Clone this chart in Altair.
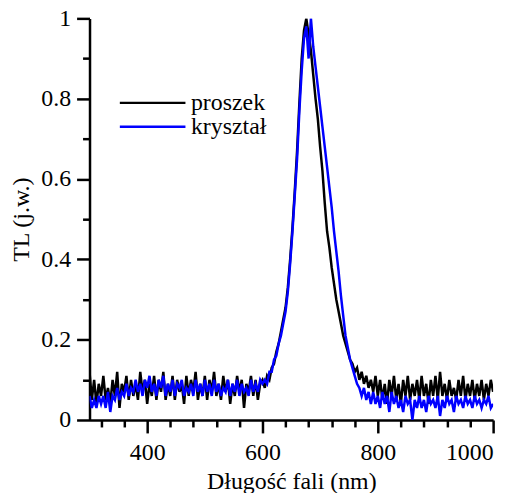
import altair as alt
import pandas as pd

# wavelength grid (nm)
wavelength = list(range(300, 1001, 4))

# proszek (black)
proszek = [
    0.12, 0.05, 0.10, 0.04, 0.09, 0.06, 0.11, 0.05, 0.08, 0.04,
    0.10, 0.06, 0.12, 0.03, 0.09, 0.07, 0.11, 0.05, 0.10, 0.06,
    0.09, 0.05, 0.12, 0.07, 0.10, 0.04, 0.09, 0.06, 0.11, 0.05,
    0.10, 0.07, 0.12, 0.05, 0.09, 0.06, 0.11, 0.05, 0.10, 0.07,
    0.09, 0.04, 0.11, 0.06, 0.10, 0.07, 0.12, 0.05, 0.09, 0.06,
    0.11, 0.05, 0.10, 0.07, 0.12, 0.06, 0.09, 0.05, 0.11, 0.07,
    0.10, 0.04, 0.09, 0.06, 0.11, 0.07, 0.10, 0.03, 0.09, 0.07,
    0.11, 0.06, 0.10, 0.05, 0.09, 0.10, 0.08, 0.11, 0.10, 0.13,
    0.14, 0.17, 0.19, 0.22, 0.25, 0.28, 0.33, 0.40, 0.48, 0.57,
    0.67, 0.79, 0.90, 0.97, 1.00, 0.96, 0.92, 0.86, 0.80, 0.75,
    0.68, 0.62, 0.54, 0.47, 0.43, 0.38, 0.34, 0.30, 0.27, 0.24,
    0.21, 0.19, 0.17, 0.15, 0.14, 0.12, 0.13, 0.10, 0.12, 0.09,
    0.11, 0.08, 0.10, 0.07, 0.11, 0.06, 0.10, 0.05, 0.09, 0.04,
    0.10, 0.06, 0.11, 0.05, 0.09, 0.04, 0.10, 0.06, 0.11, 0.05,
    0.09, 0.06, 0.10, 0.05, 0.11, 0.06, 0.09, 0.04, 0.10, 0.06,
    0.11, 0.05, 0.12, 0.06, 0.09, 0.05, 0.10, 0.06, 0.08, 0.05,
    0.10, 0.06, 0.11, 0.05, 0.09, 0.06, 0.10, 0.05, 0.09, 0.06,
    0.10, 0.05, 0.09, 0.06, 0.10, 0.07,
]

# kryształ (blue)
krysztal = [
    0.06, 0.03, 0.05, 0.03, 0.06, 0.04, 0.06, 0.03, 0.07, 0.02,
    0.06, 0.05, 0.08, 0.05, 0.07, 0.06, 0.09, 0.06, 0.08, 0.07,
    0.10, 0.07, 0.09, 0.06, 0.10, 0.08, 0.11, 0.07, 0.09, 0.06,
    0.10, 0.08, 0.11, 0.06, 0.09, 0.07, 0.10, 0.06, 0.09, 0.08,
    0.10, 0.06, 0.08, 0.07, 0.09, 0.06, 0.10, 0.07, 0.09, 0.06,
    0.10, 0.07, 0.09, 0.06, 0.10, 0.07, 0.09, 0.06, 0.08, 0.07,
    0.10, 0.06, 0.09, 0.07, 0.10, 0.06, 0.09, 0.07, 0.08, 0.06,
    0.10, 0.07, 0.09, 0.07, 0.10, 0.09, 0.10, 0.09, 0.12, 0.12,
    0.15, 0.16, 0.19, 0.21, 0.24, 0.27, 0.32, 0.39, 0.47, 0.56,
    0.65, 0.77, 0.87, 0.95, 0.98, 0.90, 1.00, 0.93, 0.88, 0.83,
    0.78, 0.73, 0.68, 0.63, 0.58, 0.53, 0.47, 0.42, 0.37, 0.31,
    0.26, 0.21, 0.18, 0.15, 0.13, 0.11, 0.09, 0.08, 0.06, 0.08,
    0.05, 0.07, 0.04, 0.07, 0.04, 0.06, 0.03, 0.07, 0.04, 0.06,
    0.02, 0.07, 0.04, 0.06, 0.03, 0.05, 0.02, 0.06, 0.04, 0.05,
    0.00, 0.05, 0.03, 0.06, 0.03, 0.05, 0.02, 0.06, 0.04, 0.05,
    0.03, 0.06, 0.01, 0.05, 0.03, 0.06, 0.04, 0.05, 0.02, 0.06,
    0.04, 0.05, 0.03, 0.06, 0.04, 0.05, 0.03, 0.06, 0.04, 0.05,
    0.03, 0.05, 0.04, 0.06, 0.03, 0.04,
]

series_names = ["proszek", "kryształ"]
series_colors = ["#000000", "#0000ff"]

x_ticks = list(range(320, 1001, 40))
y_ticks = [0.0, 0.1, 0.2, 0.3, 0.4, 0.5, 0.6, 0.7, 0.8, 0.9, 1.0]

n = len(wavelength)
df = pd.DataFrame({
    "wl": wavelength * 2,
    "tl": proszek + krysztal,
    "seria": [series_names[0]] * n + [series_names[1]] * n,
})

FONT = "Liberation Serif"

x_axis = alt.Axis(
    values=x_ticks,
    format="d",
    labelExpr="datum.value % 200 === 0 ? datum.label : ''",
    tickSize={"condition": {"test": "datum.value % 200 === 0", "value": 13}, "value": 7},
    tickWidth=2.5,
    domainWidth=2.5,
    domainColor="black",
    tickColor="black",
    labelFont=FONT,
    labelFontSize=24,
    labelColor="black",
    labelPadding=8,
    titleFont=FONT,
    titleFontSize=24,
    titleFontWeight="normal",
    titleColor="black",
    titlePadding=5,
    grid=False,
)

y_axis = alt.Axis(
    values=y_ticks,
    labelExpr="round(datum.value * 10) % 2 === 0 ? format(datum.value, '~g') : ''",
    tickSize={"condition": {"test": "round(datum.value * 10) % 2 === 0", "value": 13}, "value": 7},
    tickWidth=2.5,
    domainWidth=2.5,
    domainColor="black",
    tickColor="black",
    labelFont=FONT,
    labelFontSize=24,
    labelColor="black",
    labelPadding=6,
    titleFont=FONT,
    titleFontSize=24,
    titleFontWeight="normal",
    titleColor="black",
    titlePadding=7,
    grid=False,
)

chart = alt.Chart(df).mark_line(strokeWidth=2.5, clip=True).encode(
    x=alt.X("wl:Q", title="Długość fali (nm)",
            scale=alt.Scale(domain=[300, 1000], nice=False, zero=False), axis=x_axis),
    y=alt.Y("tl:Q", title="TL (j.w.)",
            scale=alt.Scale(domain=[0, 1], nice=False), axis=y_axis),
    color=alt.Color(
        "seria:N",
        scale=alt.Scale(domain=series_names, range=series_colors),
        sort=series_names,
        legend=alt.Legend(
            orient="none", legendX=29, legendY=74, title=None,
            symbolType="stroke", symbolSize=4356, symbolStrokeWidth=2.5,
            clipHeight=22, rowPadding=0, padding=0,
            labelFont=FONT, labelFontSize=24, labelColor="black", labelOffset=4,
        ),
    ),
).properties(
    width=406,
    height=404,
    padding={"left": 82, "top": 9, "right": 20, "bottom": 72},
    autosize="none",
).configure_view(stroke=None)

chart.save("out.html", embed_options={"renderer": "svg", "actions": False})
